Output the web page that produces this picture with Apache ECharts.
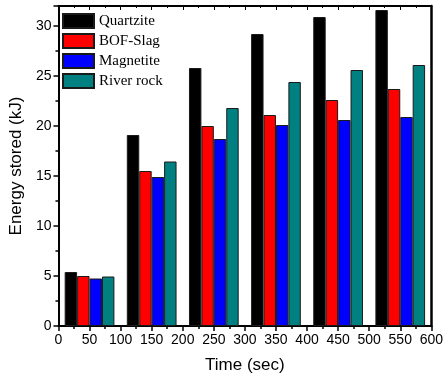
<!DOCTYPE html>
<html>
<head>
<meta charset="utf-8">
<script src="https://cdn.jsdelivr.net/npm/echarts@6/dist/echarts.min.js"></script>
<style>
  html, body { margin: 0; padding: 0; background: #fff; }
  #chart { width: 446px; height: 385px; }
</style>
</head>
<body>
<div id="chart"></div>
<script>
// time points (sec) of each bar group
const times = [50, 150, 250, 350, 450, 550];
// energy stored (kJ) per material
const quartzite = [5.4, 19.1, 25.8, 29.2, 30.9, 31.6];
const bofSlag = [5.0, 15.5, 20.0, 21.1, 22.6, 23.7];
const magnetite = [4.75, 14.9, 18.7, 20.1, 20.6, 20.9];
const riverRock = [4.95, 16.45, 21.8, 24.4, 25.6, 26.1];

const names = ['Quartzite', 'BOF-Slag', 'Magnetite', 'River rock'];
const colors = ['#000000', '#ff0000', '#0000ff', '#008080'];
const values = [quartzite, bofSlag, magnetite, riverRock];

const chart = echarts.init(document.getElementById('chart'));

const sansFont = '"Liberation Sans", Arial, sans-serif';

const series = values.map((vals, i) => ({
  name: names[i],
  type: 'bar',
  xAxisIndex: 0,
  yAxisIndex: 0,
  data: times.map((t, j) => [t, vals[j]]),
  barGap: '0%',
  barCategoryGap: '20%',
  itemStyle: { color: colors[i], borderColor: '#1a1a1a', borderWidth: 1 },
  emphasis: { disabled: true }
}));

const option = {
  animation: false,
  backgroundColor: '#fff',
  grid: { left: 57, right: 13, top: 6, bottom: 59 },
  legend: {
    orient: 'vertical',
    left: 62,
    top: 13,
    padding: 0,
    itemWidth: 31,
    itemHeight: 14,
    itemGap: 4,
    icon: 'rect',
    data: names,
    textStyle: { fontFamily: '"Liberation Serif", "Times New Roman", serif', fontSize: 15, lineHeight: 14, color: '#000' }
  },
  xAxis: [{
    type: 'value',
    min: 0, max: 600, interval: 50,
    name: 'Time (sec)',
    nameLocation: 'middle',
    nameGap: 31,
    nameTextStyle: { fontFamily: sansFont, fontSize: 17, color: '#000' },
    axisLine: { show: true, onZero: false, lineStyle: { color: '#000', width: 2 } },
    axisTick: { show: true, length: 5, lineStyle: { color: '#000', width: 1.5 } },
    minorTick: { show: true, splitNumber: 2, length: 3, lineStyle: { color: '#000', width: 1.5 } },
    axisLabel: { fontFamily: sansFont, fontSize: 14, color: '#000', margin: 7 },
    splitLine: { show: false }
  }, {
    type: 'value',
    position: 'top',
    min: 0, max: 600, interval: 50,
    axisLine: { show: true, onZero: false, lineStyle: { color: '#000', width: 2 } },
    axisTick: { show: true, inside: true, length: 4, lineStyle: { color: '#000', width: 1 } },
    minorTick: { show: true, splitNumber: 2, length: 2, lineStyle: { color: '#000', width: 1 } },
    axisLabel: { show: false },
    splitLine: { show: false }
  }],
  yAxis: [{
    type: 'value',
    min: 0, max: 32, interval: 5,
    name: 'Energy stored (kJ)',
    nameLocation: 'middle',
    nameGap: 30,
    nameTextStyle: { fontFamily: sansFont, fontSize: 17, color: '#000' },
    axisLine: { show: true, onZero: false, lineStyle: { color: '#000', width: 2 } },
    axisTick: { show: true, length: 5, lineStyle: { color: '#000', width: 1.5 } },
    minorTick: { show: true, splitNumber: 2, length: 3, lineStyle: { color: '#000', width: 1.5 } },
    axisLabel: { fontFamily: sansFont, fontSize: 14, color: '#000', margin: 7, showMaxLabel: false },
    splitLine: { show: false }
  }, {
    type: 'value',
    position: 'right',
    min: 0, max: 32, interval: 5,
    axisLine: { show: true, onZero: false, lineStyle: { color: '#000', width: 2.5 } },
    axisTick: { show: false },
    axisLabel: { show: false },
    splitLine: { show: false }
  }],
  series: series
};

chart.setOption(option);
</script>
</body>
</html>
